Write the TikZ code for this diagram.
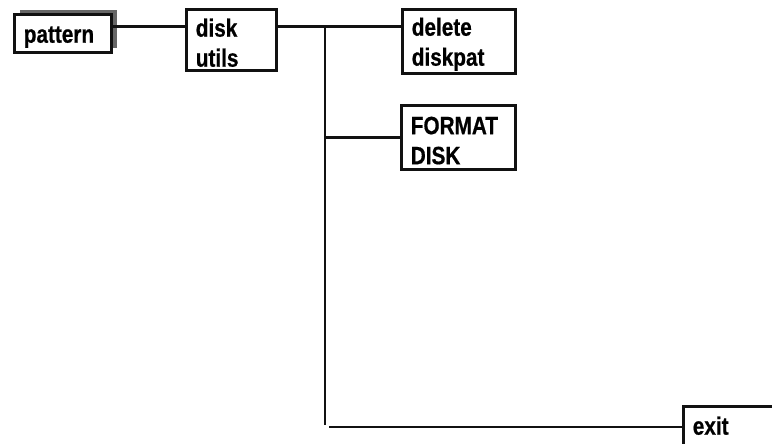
\documentclass[tikz,border=0pt]{standalone}
\usepackage{fontspec}
\setmainfont{Liberation Sans}[FakeStretch=0.83,FakeBold=0.6]
\usetikzlibrary{shadows}
\definecolor{ink}{HTML}{111111}
\definecolor{shade}{HTML}{666666}

\begin{document}
\begin{tikzpicture}[x=1pt,y=-1pt,font=\fontsize{25}{30}\selectfont\bfseries,
  menu/.style={draw=ink,line width=2.8pt,fill=white,anchor=north west,
               align=left,inner xsep=9pt,inner ysep=0pt,text height=23pt},
  link/.style={draw=ink,line width=2.8pt}]
  \useasboundingbox (0,0) rectangle (772,444);

  \node[menu,text width=79pt,minimum height=38pt,
        drop shadow={shadow xshift=5pt,shadow yshift=5pt,fill=shade,opacity=1}]
        (pat) at (13.4,13.4) {pattern};
  \node[menu,text width=72pt,minimum height=61pt] (du) at (185.4,8.4) {disk\\utils};
  \node[menu,text width=95pt,minimum height=64pt] (del) at (401.4,8.4) {delete\\diskpat};
  \node[menu,text width=96pt,minimum height=64pt] (fmt) at (400.4,104.4) {FORMAT\\DISK};
  \node[menu,text width=132pt,minimum height=42pt,text height=14pt] (ex) at (682.4,405.4) {exit};

  \coordinate (top) at (325,26.5);
  \coordinate (bot) at (325,425);
  \coordinate (turn) at (329,427);

  \draw[link] (pat.east |- top) -- (du.west |- top);
  \draw[link] (du.east |- top) -- (del.west |- top);
  \draw[link] (top) -- (bot);
  \draw[link] (top |- fmt.west) -- (fmt.west);
  \draw[link] (turn) -- (ex.west |- turn);
\end{tikzpicture}
\end{document}
